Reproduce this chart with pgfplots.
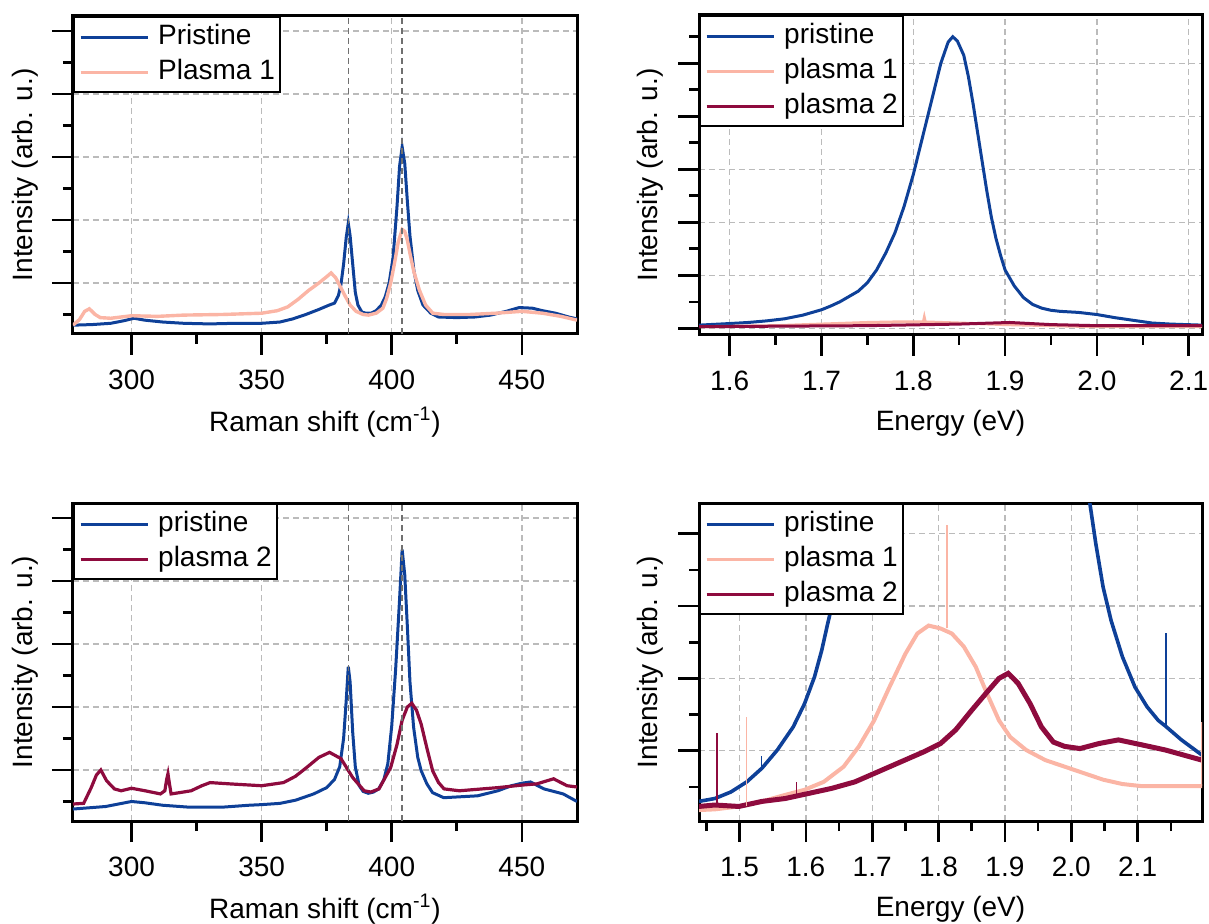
\documentclass[border=0pt]{standalone}
\usepackage{pgfplots}
\pgfplotsset{compat=1.18}
\usepackage{fontspec}
\setmainfont{Liberation Sans}
\definecolor{pris}{HTML}{0E4098}
\definecolor{pla1}{HTML}{FBB5A5}
\definecolor{pla2}{HTML}{8E0B3E}
\definecolor{gridgray}{HTML}{BBBBBB}
\definecolor{markgray}{HTML}{707070}
\newcommand\fs{\fontsize{14}{16.8}\selectfont}
\pgfplotsset{
 myaxis/.style={
  scale only axis,
  anchor=north west,
  axis line style={line width=1.5pt},
  every tick/.style={line width=1.3pt, black},
  major tick length=10.5pt, minor tick length=5pt,
  tick align=outside,
  xtick pos=left, ytick pos=left,
  xmajorgrids, ymajorgrids,
  major grid style={line width=0.7pt, color=gridgray, dash pattern=on 3pt off 2pt},
  yticklabel={\mbox{}},
  tick label style={font=\fs},
  xticklabel style={yshift=-4pt},
  label style={font=\fs},
  /pgf/number format/assume math mode=true,
  xlabel style={at={(axis description cs:0.5,0)}, anchor=center, yshift=-44pt},
  legend cell align=left,
  legend style={at={(0,1)}, anchor=north west, draw=black, line width=1.2pt, fill=white,
    inner xsep=2.5pt, inner ysep=3.5pt, row sep=4.5pt, font=\fs,
    nodes={inner sep=0pt, text height=10pt, text depth=3pt},
    /tikz/every odd column/.append style={column sep=4.5pt}},
  legend image code/.code={\draw[##1, line width=1.5pt] (0pt,0pt) -- (33.5pt,0pt);},
 },
 ramanaxis/.style={
  myaxis, width=252pt, height=159pt,
  xmin=277.5, xmax=471.2, ymin=0.19, ymax=5.24,
  xtick={300,350,400,450}, minor xtick={325,375,425},
  ytick={1,2,3,4,5}, minor ytick={0.5,1.5,2.5,3.5,4.5},
  xlabel={Raman shift (cm\textsuperscript{-1})},
  ylabel={Intensity (arb. u.)},
  ylabel style={at={(axis description cs:-0.0952,0.5)}, anchor=center},
 },
 plaxis/.style={
  myaxis, width=251.5pt,
  xtick={1.5,1.6,1.7,1.8,1.9,2.0,2.1},
  xticklabel style={/pgf/number format/.cd, fixed, fixed zerofill, precision=1},
  xlabel={Energy (eV)},
  ylabel={Intensity (arb. u.)},
  ylabel style={at={(axis description cs:-0.0974,0.5)}, anchor=center},
 },
}
\begin{document}
\begin{tikzpicture}
\path[use as bounding box] (0,0) rectangle (604.5pt,-462pt);

% ---------------- top left ----------------
\begin{axis}[ramanaxis, at={(36.5pt,-8pt)}]
\addplot[pris, line width=1.5pt] coordinates {
(277.5,0.33) (285,0.34) (292,0.36) (297,0.40) (301,0.44) (305,0.41) (312,0.38) (320,0.36)
(330,0.35) (340,0.36) (350,0.36) (357,0.38) (362,0.43) (367,0.50) (372,0.58) (376,0.65)
(378,0.68) (379.5,0.80) (380.5,0.98) (381.5,1.30) (382.5,1.72) (383.3,1.95) (384,1.75)
(385,1.30) (386,0.85) (387,0.65) (388.5,0.54) (390,0.52) (392,0.52) (394,0.56) (396,0.65)
(397.5,0.78) (399,1.00) (400.5,1.40) (402,2.20) (403,2.85) (404,3.16) (405,2.90) (406,2.30)
(407,1.75) (408.5,1.20) (410,0.88) (412,0.65) (415,0.52) (418,0.46) (425,0.45) (432,0.46)
(438,0.49) (444,0.55) (449,0.61) (454,0.60) (458,0.56) (463,0.52) (468,0.46) (471.2,0.43)};
\addlegendentry{Pristine}
\addplot[pla1, line width=1.7pt] coordinates {
(277.5,0.33) (280,0.42) (282,0.55) (283.8,0.59) (286,0.50) (288,0.45) (292,0.44) (300,0.48)
(310,0.47) (320,0.49) (335,0.50) (350,0.52) (356,0.56) (360,0.62) (364,0.74) (368,0.88)
(372,1.00) (375,1.10) (376.7,1.16) (378.5,1.08) (380,0.96) (382,0.80) (384,0.65) (386.3,0.55)
(389,0.50) (391,0.49) (394,0.52) (396.6,0.60) (398,0.75) (399.6,1.00) (401,1.30) (402.5,1.65)
(404,1.85) (405,1.82) (406,1.68) (407,1.47) (408.5,1.18) (410.6,0.89) (413,0.65) (415.8,0.52)
(420,0.50) (430,0.50) (440,0.52) (450,0.55) (458,0.52) (465,0.47) (471.2,0.41)};
\addlegendentry{Plasma 1}
\addplot[forget plot, markgray, line width=0.8pt, dash pattern=on 3pt off 2pt] coordinates {(383.4,0.19) (383.4,5.24)};
\addplot[forget plot, markgray, line width=0.8pt, dash pattern=on 3pt off 2pt] coordinates {(404,0.19) (404,5.24)};
\end{axis}

% ---------------- top right ----------------
\begin{axis}[plaxis, at={(349.5pt,-7.5pt)}, height=160pt,
  xmin=1.5666, xmax=2.1145, ymin=-0.126, ymax=5.91,
  minor xtick={1.65,1.75,1.85,1.95,2.05},
  ytick={0,1,2,3,4,5}, minor ytick={0.5,1.5,2.5,3.5,4.5,5.5}]
\addplot[pris, line width=1.5pt] coordinates {
(1.5666,0.06) (1.60,0.09) (1.62,0.11) (1.64,0.14) (1.66,0.18) (1.68,0.25) (1.70,0.35)
(1.71,0.42) (1.72,0.50) (1.73,0.60) (1.74,0.70) (1.75,0.86) (1.76,1.10) (1.77,1.42)
(1.78,1.80) (1.79,2.30) (1.80,2.90) (1.81,3.60) (1.82,4.30) (1.83,5.00) (1.838,5.40)
(1.843,5.50) (1.848,5.42) (1.855,5.15) (1.86,4.75) (1.865,4.25) (1.87,3.70) (1.875,3.15)
(1.88,2.60) (1.885,2.10) (1.89,1.70) (1.895,1.38) (1.90,1.10) (1.91,0.80) (1.92,0.58)
(1.93,0.45) (1.94,0.38) (1.95,0.34) (1.96,0.32) (1.98,0.30) (2.00,0.26) (2.02,0.20)
(2.04,0.15) (2.06,0.10) (2.08,0.08) (2.1145,0.06)};
\addlegendentry{pristine}
\addplot[pla1, line width=1.5pt] coordinates {
(1.5666,0.03) (1.65,0.05) (1.70,0.08) (1.75,0.11) (1.78,0.12) (1.811,0.12) (1.812,0.20)
(1.813,0.12) (1.85,0.10) (1.90,0.07) (1.95,0.05) (2.0,0.03) (2.1145,0.03)};
\addlegendentry{plasma 1}
\addplot[pla2, line width=1.5pt] coordinates {
(1.5666,0.03) (1.65,0.04) (1.75,0.05) (1.85,0.08) (1.905,0.11) (1.95,0.07) (2.0,0.05) (2.1145,0.05)};
\addlegendentry{plasma 2}
\end{axis}

% ---------------- bottom left ----------------
\begin{axis}[ramanaxis, at={(36.5pt,-251.5pt)}]
\addplot[pris, line width=1.5pt] coordinates {
(277.5,0.38) (290,0.42) (300,0.50) (305,0.48) (312,0.44) (322,0.41) (335,0.41) (345,0.44)
(350,0.45) (357,0.47) (363,0.52) (370,0.62) (375,0.72) (378,0.85) (380,1.05) (381.5,1.50)
(382.5,2.10) (383.3,2.64) (384,2.40) (385,1.60) (386,1.05) (387.5,0.75) (389,0.66) (391,0.63)
(393,0.65) (395,0.70) (397,0.85) (398.5,1.10) (400,1.70) (401.5,2.60) (403,3.70) (404,4.50)
(405,4.10) (406,3.28) (407,2.40) (408.4,1.68) (410,1.20) (411.3,0.99) (413.5,0.78) (415.7,0.64)
(420,0.56) (433,0.59) (440.8,0.67) (446,0.75) (450,0.79) (453.3,0.81) (458.5,0.70) (465.9,0.62)
(471.2,0.50)};
\addlegendentry{pristine}
\addplot[pla2, line width=1.6pt] coordinates {
(277.5,0.46) (281.6,0.47) (284.5,0.72) (286.5,0.92) (288.2,1.00) (290.4,0.83) (293.4,0.70)
(296,0.67) (300,0.71) (305.2,0.67) (311.1,0.62) (312.8,0.67) (313.5,0.85) (314,0.94)
(314.5,0.80) (315.2,0.62) (318.4,0.64) (322.9,0.67) (327,0.75) (330.2,0.80) (337.6,0.78)
(350,0.75) (358.4,0.80) (363,0.90) (367.3,1.04) (372,1.20) (376.1,1.28) (380.5,1.18)
(385,0.88) (389.4,0.67) (392,0.65) (395.1,0.70) (399.6,1.04) (402,1.40) (404,1.79) (406,2.00)
(407.7,2.06) (409.5,1.95) (411.3,1.73) (413.5,1.35) (415.7,0.99) (418,0.80) (420.1,0.70)
(426,0.67) (440.8,0.72) (450,0.76) (455.8,0.78) (462.2,0.86) (467.4,0.75) (471.2,0.73)};
\addlegendentry{plasma 2}
\addplot[forget plot, markgray, line width=0.8pt, dash pattern=on 3pt off 2pt] coordinates {(383.4,0.19) (383.4,5.24)};
\addplot[forget plot, markgray, line width=0.8pt, dash pattern=on 3pt off 2pt] coordinates {(404,0.19) (404,5.24)};
\end{axis}

% ---------------- bottom right ----------------
\begin{axis}[plaxis, at={(349.5pt,-251.5pt)}, height=159pt,
  xmin=1.439, xmax=2.197, ymin=0.029, ymax=4.424,
  minor xtick={1.45,1.55,1.65,1.75,1.85,1.95,2.05,2.15},
  ytick={1,2,3,4}, minor ytick={0.5,1.5,2.5,3.5}]
\addplot[pris, line width=1.8pt] coordinates {
(1.439,0.30) (1.463,0.34) (1.487,0.43) (1.511,0.57) (1.534,0.76) (1.557,1.01) (1.581,1.33)
(1.598,1.65) (1.613,2.02) (1.624,2.39) (1.633,2.76) (1.639,2.99) (1.65,3.60) (1.66,4.30)
(1.67,5.20) (1.70,9.0) (1.75,25) (1.843,100) (1.93,25) (1.98,9.0) (2.00,6.5) (2.015,5.2)
(2.028,4.42) (2.037,3.86) (2.048,3.26) (2.060,2.80) (2.077,2.30) (2.096,1.88) (2.114,1.61)
(2.131,1.42) (2.142,1.34) (2.166,1.15) (2.197,0.94)};
\addlegendentry{pristine}
\addplot[pla1, line width=2pt] coordinates {
(1.439,0.18) (1.463,0.19) (1.499,0.23) (1.534,0.30) (1.569,0.39) (1.598,0.46) (1.627,0.57)
(1.657,0.78) (1.680,1.06) (1.703,1.42) (1.726,1.88) (1.750,2.34) (1.768,2.62) (1.785,2.73)
(1.803,2.69) (1.820,2.62) (1.838,2.44) (1.856,2.16) (1.873,1.79) (1.891,1.42) (1.908,1.19)
(1.932,1.01) (1.961,0.87) (1.990,0.78) (2.019,0.69) (2.048,0.60) (2.077,0.54) (2.107,0.51)
(2.166,0.51) (2.197,0.51)};
\addlegendentry{plasma 1}
\addplot[pla2, line width=2.5pt] coordinates {
(1.439,0.23) (1.463,0.25) (1.499,0.23) (1.534,0.30) (1.569,0.34) (1.604,0.41) (1.639,0.48)
(1.674,0.57) (1.709,0.71) (1.744,0.85) (1.779,0.99) (1.803,1.10) (1.826,1.29) (1.850,1.56)
(1.873,1.81) (1.891,2.00) (1.905,2.07) (1.920,1.93) (1.938,1.65) (1.955,1.33) (1.973,1.12)
(1.990,1.06) (2.013,1.03) (2.042,1.10) (2.071,1.15) (2.107,1.08) (2.142,1.01) (2.197,0.87)};
\addlegendentry{plasma 2}
% narrow spikes
\addplot[forget plot, pris, line width=0.9pt] coordinates {(1.5332,0.76) (1.5332,0.93)};
\addplot[forget plot, pris, line width=0.9pt] coordinates {(2.1428,1.34) (2.1428,2.63)};
\addplot[forget plot, pla1, line width=0.9pt] coordinates {(1.5105,0.24) (1.5105,1.47)};
\addplot[forget plot, pla1, line width=0.9pt] coordinates {(1.8130,2.69) (1.8130,4.12)};
\addplot[forget plot, pla1, line width=0.9pt] coordinates {(2.1965,0.51) (2.1965,1.40)};
\addplot[forget plot, pla2, line width=0.9pt] coordinates {(1.4660,0.25) (1.4660,1.25)};
\addplot[forget plot, pla2, line width=0.9pt] coordinates {(1.5860,0.36) (1.5860,0.57)};
\end{axis}
\end{tikzpicture}
\end{document}
